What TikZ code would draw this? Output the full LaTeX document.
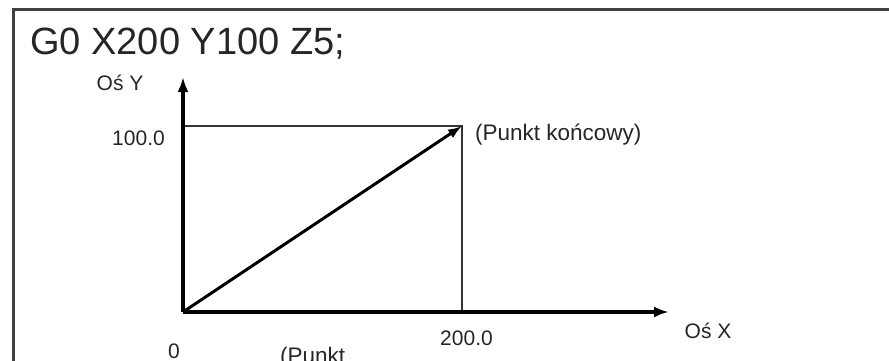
\documentclass[tikz,border=0pt]{standalone}
\usepackage{fontspec}
\setmainfont{Liberation Sans}
\usetikzlibrary{arrows.meta}
\begin{document}
\begin{tikzpicture}[x=1pt,y=-1pt,
  frame/.style={draw=black!75,line width=3pt},
  axis/.style={line width=3.5pt,-{Latex[length=15pt,width=11pt]}},
  path/.style={line width=3pt,-{Latex[length=14pt,width=10pt]}},
  guide/.style={draw=black!80,line width=1.8pt},
  lbl/.style={inner sep=0pt,font=\fontsize{21}{24}\selectfont,text=black!85},
  ttl/.style={inner sep=0pt,font=\fontsize{38}{42}\selectfont,text=black!85}]
\useasboundingbox (0,0) rectangle (889,361);
\fill[white] (0,0) rectangle (889,361);
% frame
\coordinate (fbl) at (13,370);
\coordinate (ftl) at (13,9.5);
\coordinate (ftr) at (895,9.5);
\draw[frame] (fbl) -- (ftl) -- (ftr);
% title
\node[ttl,anchor=base west] (title) at (30,55) {G0 X200 Y100 Z5;};
% coordinates
\coordinate (O) at (183,312);
\coordinate (ytip) at (183,77);
\coordinate (xtip) at (669,312);
\coordinate (E) at (462,126);
\coordinate (Ey) at (183,126);
\coordinate (Ex) at (462,312);
% guides
\draw[guide] (Ey) -- (E) -- (Ex);
% axes
\draw[axis] (O) -- (ytip);
\draw[axis] (O) -- (xtip);
\draw[path] (O) -- (E);
% labels
\node[lbl,anchor=base] (ylab) at (120,90) {Oś Y};
\node[lbl,anchor=base] (yval) at (138.5,145) {100.0};
\node[lbl,anchor=base west,font=\fontsize{22.5}{26}\selectfont] (end) at (475,140) {(Punkt końcowy)};
\node[lbl,anchor=base] (xval) at (466.5,345) {200.0};
\node[lbl,anchor=base] (xlab) at (708,338) {Oś X};
\node[lbl,anchor=base] (zero) at (174,358) {0};
\node[lbl,anchor=base west,font=\fontsize{22.5}{26}\selectfont] (start) at (280,363) {(Punkt};
\end{tikzpicture}
\end{document}
